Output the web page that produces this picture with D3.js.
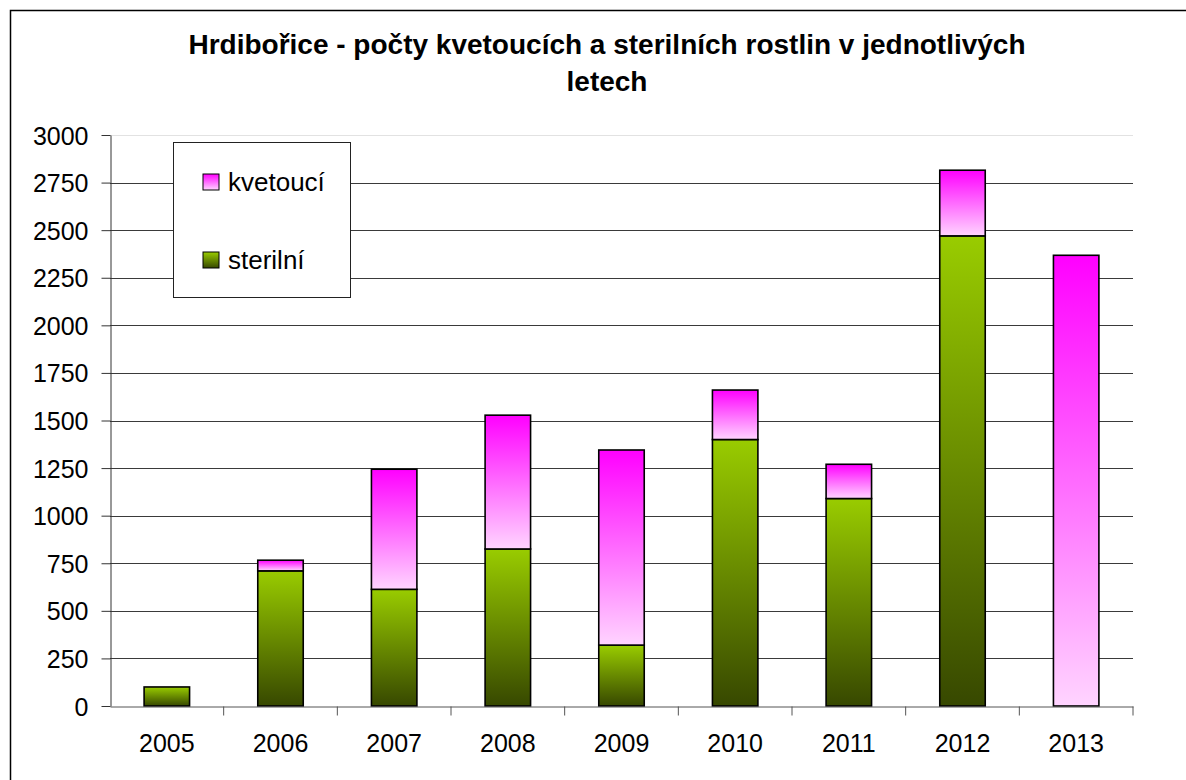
<!DOCTYPE html>
<html>
<head>
<meta charset="utf-8">
<script src="https://cdn.jsdelivr.net/npm/d3@7"></script>
<style>
  body { margin: 0; background: #fff; }
  text { font-family: "Liberation Sans", Arial, sans-serif; fill: #000; }
</style>
</head>
<body>
<div id="chart"></div>
<script>
// data
const years = ["2005", "2006", "2007", "2008", "2009", "2010", "2011", "2012", "2013"];
const sterilni = [100, 710, 613, 825, 320, 1400, 1090, 2470, 0];
const kvetouci = [0, 56, 631, 703, 1025, 260, 180, 345, 2368];
const yTicks = [0, 250, 500, 750, 1000, 1250, 1500, 1750, 2000, 2250, 2500, 2750, 3000];
const seriesNames = ["kvetoucí", "sterilní"];

const W = 1186, H = 780;
const plot = { left: 110, right: 1133, top: 135, bottom: 706 };

const svg = d3.select("#chart")
    .append("svg")
    .attr("width", W)
    .attr("height", H);

// gradients
const defs = svg.append("defs");
const gGreen = defs.append("linearGradient").attr("id", "gradGreen")
    .attr("x1", 0).attr("y1", 0).attr("x2", 0).attr("y2", 1);
gGreen.append("stop").attr("offset", "0%").attr("stop-color", "#99cc00");
gGreen.append("stop").attr("offset", "100%").attr("stop-color", "#374800");
const gPink = defs.append("linearGradient").attr("id", "gradPink")
    .attr("x1", 0).attr("y1", 0).attr("x2", 0).attr("y2", 1);
gPink.append("stop").attr("offset", "0%").attr("stop-color", "#ff00ff");
gPink.append("stop").attr("offset", "100%").attr("stop-color", "#ffd4ff");

// outer chart frame (only top and left edges fall inside the window)
svg.append("rect")
    .attr("x", 10.5).attr("y", 10.5)
    .attr("width", W + 20).attr("height", H + 20)
    .attr("fill", "none").attr("stroke", "#000").attr("stroke-width", 1.5);

// title
svg.append("text")
    .attr("x", 607).attr("y", 54)
    .attr("text-anchor", "middle")
    .style("font-size", "28px").style("font-weight", "bold")
    .text("Hrdibořice - počty kvetoucích a sterilních rostlin v jednotlivých");
svg.append("text")
    .attr("x", 607).attr("y", 91)
    .attr("text-anchor", "middle")
    .style("font-size", "28px").style("font-weight", "bold")
    .text("letech");

const x = d3.scaleBand()
    .domain(years)
    .range([plot.left, plot.right])
    .paddingInner(0.6)
    .paddingOuter(0.3);

const y = d3.scaleLinear()
    .domain([0, 3000])
    .range([plot.bottom, plot.top]);

// gridlines
svg.append("g")
    .selectAll("line")
    .data(yTicks.filter(d => d > 0))
    .join("line")
    .attr("x1", plot.left).attr("x2", plot.right)
    .attr("y1", d => Math.round(y(d)) + 0.5).attr("y2", d => Math.round(y(d)) + 0.5)
    .attr("stroke", d => d === 3000 ? "#e2e2e2" : "#3a3a3a")
    .attr("stroke-width", 1.2);

// y axis
const yAxis = svg.append("g")
    .attr("transform", `translate(${plot.left + 0.5},0)`)
    .call(d3.axisLeft(y).tickValues(yTicks).tickFormat(d3.format("d"))
        .tickSize(9).tickPadding(13).tickSizeOuter(0));
yAxis.selectAll("text").style("font-size", "25px")
    .attr("dy", "0.36em");
yAxis.select(".domain").attr("stroke", "#333");
yAxis.selectAll(".tick line").attr("stroke", "#333");

// stacked bars
const stackData = years.map((yr, i) => ({ year: yr, sterilni: sterilni[i], kvetouci: kvetouci[i] }));
const stack = d3.stack().keys(["sterilni", "kvetouci"]);
const layers = stack(stackData);
const fills = { sterilni: "url(#gradGreen)", kvetouci: "url(#gradPink)" };

svg.append("g")
    .selectAll("g")
    .data(layers)
    .join("g")
    .attr("fill", d => fills[d.key])
    .selectAll("rect")
    .data(d => d.filter(s => s[1] - s[0] > 0))
    .join("rect")
    .attr("x", d => x(d.data.year))
    .attr("y", d => y(d[1]))
    .attr("width", x.bandwidth())
    .attr("height", d => y(d[0]) - y(d[1]))
    .attr("stroke", "#000")
    .attr("stroke-width", 1.6);

// x axis
const xAxis = svg.append("g")
    .attr("transform", `translate(0,${plot.bottom + 0.5})`)
    .call(d3.axisBottom(x).tickSize(0).tickPadding(28).tickSizeOuter(0));
xAxis.selectAll("text").style("font-size", "25px");
xAxis.select(".domain").attr("stroke", "#555");
const step = x.step();
xAxis.append("g")
    .selectAll("line")
    .data(d3.range(1, years.length + 1))
    .join("line")
    .attr("x1", k => plot.left + k * step).attr("x2", k => plot.left + k * step)
    .attr("y1", 0).attr("y2", 9)
    .attr("stroke", "#555");

// legend
const legend = svg.append("g");
legend.append("rect")
    .attr("x", 173.5).attr("y", 142.5)
    .attr("width", 177).attr("height", 155)
    .attr("fill", "#fff").attr("stroke", "#222").attr("stroke-width", 1);
const legendFills = ["url(#gradPink)", "url(#gradGreen)"];
const legendY = [174, 252];
legend.selectAll("rect.sw")
    .data(seriesNames)
    .join("rect")
    .attr("class", "sw")
    .attr("x", 203).attr("y", (d, i) => legendY[i])
    .attr("width", 16).attr("height", 16)
    .attr("fill", (d, i) => legendFills[i])
    .attr("stroke", "#000").attr("stroke-width", 1);
legend.selectAll("text")
    .data(seriesNames)
    .join("text")
    .attr("x", 228).attr("y", (d, i) => legendY[i] + 17)
    .style("font-size", "26px")
    .text(d => d);
</script>
</body>
</html>
